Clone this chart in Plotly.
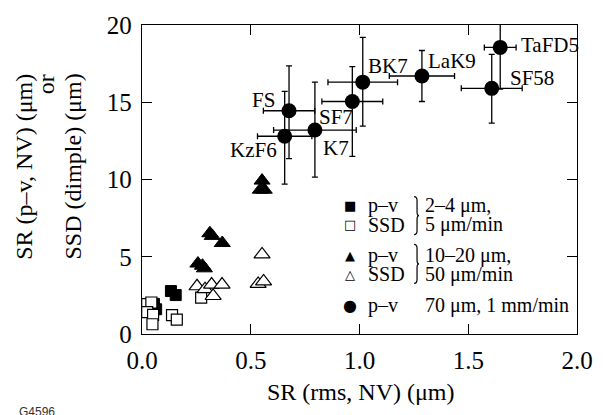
import plotly.graph_objects as go

# ---------------- data ----------------
sq_fill_x = [0.055, 0.065, 0.133, 0.155]
sq_fill_y = [1.95, 1.6, 2.78, 2.52]

sq_open_x = [0.024, 0.043, 0.024, 0.051, 0.048, 0.138, 0.160, 0.272]
sq_open_y = [1.94, 2.04, 1.41, 1.24, 0.63, 1.22, 0.93, 2.35]

tri_fill_x = [0.257, 0.278, 0.287, 0.312, 0.323, 0.369, 0.552, 0.544, 0.562]
tri_fill_y = [4.56, 4.42, 4.25, 6.52, 6.35, 5.89, 9.93, 9.34, 9.34]

tri_open_x = [0.253, 0.290, 0.320, 0.368, 0.327, 0.552, 0.534, 0.559]
tri_open_y = [3.09, 2.90, 3.20, 3.20, 2.46, 5.15, 3.24, 3.40]

glass = ["KzF6", "FS", "K7", "SF7", "BK7", "LaK9", "SF58", "TaFD5"]
circ_x = [0.656, 0.676, 0.795, 0.967, 1.015, 1.287, 1.608, 1.647]
circ_y = [12.8, 14.45, 13.2, 15.05, 16.3, 16.7, 15.9, 18.55]
circ_xerr = [0.125, 0.118, 0.19, 0.14, 0.16, 0.15, 0.14, 0.073]
circ_yerr_plus = [2.9, 2.9, 3.1, 2.25, 2.9, 1.65, 2.2, 2.7]
circ_yerr_minus = [3.1, 3.1, 3.05, 3.55, 2.85, 1.65, 2.25, 2.7]

x_ticks = [0.0, 0.5, 1.0, 1.5, 2.0]
y_ticks = [0, 5, 10, 15, 20]

y_title_lines = ["SR (p–v, NV) (μm)", "or", "SSD (dimple) (μm)"]

# label positions (data coords) and anchors for glass names
label_pos = {
    "KzF6": (0.631, 11.92, "right"),
    "FS": (0.619, 15.14, "right"),
    "K7": (0.825, 12.03, "left"),
    "SF7": (0.806, 14.07, "left"),
    "BK7": (1.03, 17.33, "left"),
    "LaK9": (1.306, 17.64, "left"),
    "SF58": (1.683, 16.6, "left"),
    "TaFD5": (1.735, 18.7, "left"),
}

SERIF = "Liberation Serif"
W, H = 605, 415
L, R, T, B = 142, 17, 17, 81
PW, PH = W - L - R, H - T - B
X0, X1, Y0, Y1 = 0.0, 2.0, 0.0, 20.0


def px2x(px):
    return X0 + (px - L) / PW * (X1 - X0)


def py2y(py):
    return Y0 + (H - B - py) / PH * (Y1 - Y0)


def px2paper(px):
    return (px - L) / PW


def py2paper(py):
    return (H - B - py) / PH


fig = go.Figure()

fig.add_trace(go.Scatter(x=sq_fill_x, y=sq_fill_y, mode="markers",
                         marker=dict(symbol="square", size=11, color="black",
                                     line=dict(color="black", width=1)),
                         showlegend=False))
fig.add_trace(go.Scatter(x=sq_open_x, y=sq_open_y, mode="markers",
                         marker=dict(symbol="square", size=11, color="white",
                                     line=dict(color="black", width=1.2)),
                         showlegend=False))
fig.add_trace(go.Scatter(x=tri_fill_x, y=tri_fill_y, mode="markers",
                         marker=dict(symbol="triangle-up", size=14, color="black",
                                     line=dict(color="black", width=1)),
                         showlegend=False))
fig.add_trace(go.Scatter(x=tri_open_x, y=tri_open_y, mode="markers",
                         marker=dict(symbol="triangle-up", size=14, color="white",
                                     line=dict(color="black", width=1.2)),
                         showlegend=False))
fig.add_trace(go.Scatter(x=circ_x, y=circ_y, mode="markers",
                         marker=dict(symbol="circle", size=15, color="black"),
                         error_x=dict(type="data", array=circ_xerr, color="black",
                                      thickness=1.3, width=3),
                         error_y=dict(type="data", array=circ_yerr_plus,
                                      arrayminus=circ_yerr_minus, symmetric=False,
                                      color="black", thickness=1.3, width=3),
                         showlegend=False))

ann = []
for name in glass:
    lx, ly, anc = label_pos[name]
    ann.append(dict(x=lx, y=ly, xref="x", yref="y", text=name, showarrow=False,
                    xanchor=anc, yanchor="middle",
                    font=dict(family=SERIF, size=21, color="black")))

# legend (drawn manually)
rows = [
    ("■", 13, "p–v", 202.3, "2–4 μm,"),
    ("□", 13, "SSD", 221.7, "5 μm/min"),
    ("▲", 13, "p–v", 253.3, "10–20 μm,"),
    ("△", 13, "SSD", 272.7, "50 μm/min"),
    ("●", 16, "p–v", 305.0, "70 μm, 1 mm/min"),
]
for sym, ssz, lab, py, rt in rows:
    ann.append(dict(x=px2paper(355.7), y=py2paper(py), xref="paper", yref="paper",
                    text=sym, showarrow=False, xanchor="center", yanchor="middle",
                    font=dict(family="DejaVu Sans", size=ssz, color="black")))
    ann.append(dict(x=px2paper(372), y=py2paper(py), xref="paper", yref="paper",
                    text=lab, showarrow=False, xanchor="left", yanchor="middle",
                    font=dict(family=SERIF, size=20, color="black")))
    ann.append(dict(x=px2paper(430.5), y=py2paper(py), xref="paper", yref="paper",
                    text=rt, showarrow=False, xanchor="left", yanchor="middle",
                    font=dict(family=SERIF, size=20, color="black")))

# axis titles
ann.append(dict(x=px2paper(367), y=py2paper(394), xref="paper", yref="paper",
                text="SR (rms, NV) (μm)", showarrow=False, xanchor="center",
                yanchor="middle", font=dict(family=SERIF, size=24, color="black")))
# y title: three rotated lines, top-aligned at the same height
for cx, txt in zip([21, 43, 71], y_title_lines):
    ann.append(dict(x=px2paper(cx), y=py2paper(65), xref="paper", yref="paper",
                    text=txt, showarrow=False, textangle=-90,
                    xanchor="center", yanchor="top",
                    font=dict(family=SERIF, size=24, color="black")))
ann.append(dict(x=px2paper(14), y=py2paper(405), xref="paper", yref="paper",
                text="G4596", showarrow=False, xanchor="left", yanchor="top",
                font=dict(family="Liberation Sans", size=12, color="#333333")))


def brace(px, ytop, ybot, depth=5):
    xm = px + depth * 0.6
    xt = px + depth
    yc = (ytop + ybot) / 2
    pts = [
        ("M", [(px, ytop)]),
        ("Q", [(xm, ytop), (xm, ytop + 4)]),
        ("L", [(xm, yc - 4)]),
        ("Q", [(xm, yc), (xt, yc)]),
        ("Q", [(xm, yc), (xm, yc + 4)]),
        ("L", [(xm, ybot - 4)]),
        ("Q", [(xm, ybot), (px, ybot)]),
    ]
    s = ""
    for cmd, ps in pts:
        s += cmd + " " + " ".join(f"{px2x(a):.5f},{py2y(b):.5f}" for a, b in ps) + " "
    return s.strip()


shapes = [
    dict(type="path", path=brace(421, 193, 232), xref="x", yref="y",
         line=dict(color="black", width=1.2)),
    dict(type="path", path=brace(421, 242, 282), xref="x", yref="y",
         line=dict(color="black", width=1.2)),
]

fig.update_layout(
    width=W, height=H,
    margin=dict(l=L, r=R, t=T, b=B),
    paper_bgcolor="white", plot_bgcolor="white",
    showlegend=False,
    annotations=ann,
    shapes=shapes,
    font=dict(family=SERIF, color="black"),
    xaxis=dict(range=[X0, X1], tickvals=x_ticks, ticktext=[f"{v:.1f}" for v in x_ticks],
               ticks="inside", ticklen=10, tickwidth=1.2, tickcolor="black",
               showline=True, linecolor="black", linewidth=1.3, mirror="ticks",
               showgrid=False, zeroline=False,
               tickfont=dict(family=SERIF, size=25, color="black"),
               ticklabelstandoff=4),
    yaxis=dict(range=[Y0, Y1], tickvals=y_ticks,
               ticks="inside", ticklen=10, tickwidth=1.2, tickcolor="black",
               showline=True, linecolor="black", linewidth=1.3, mirror="ticks",
               showgrid=False, zeroline=False,
               tickfont=dict(family=SERIF, size=25, color="black"),
               ticklabelstandoff=4),
)

fig.write_html("out.html")
